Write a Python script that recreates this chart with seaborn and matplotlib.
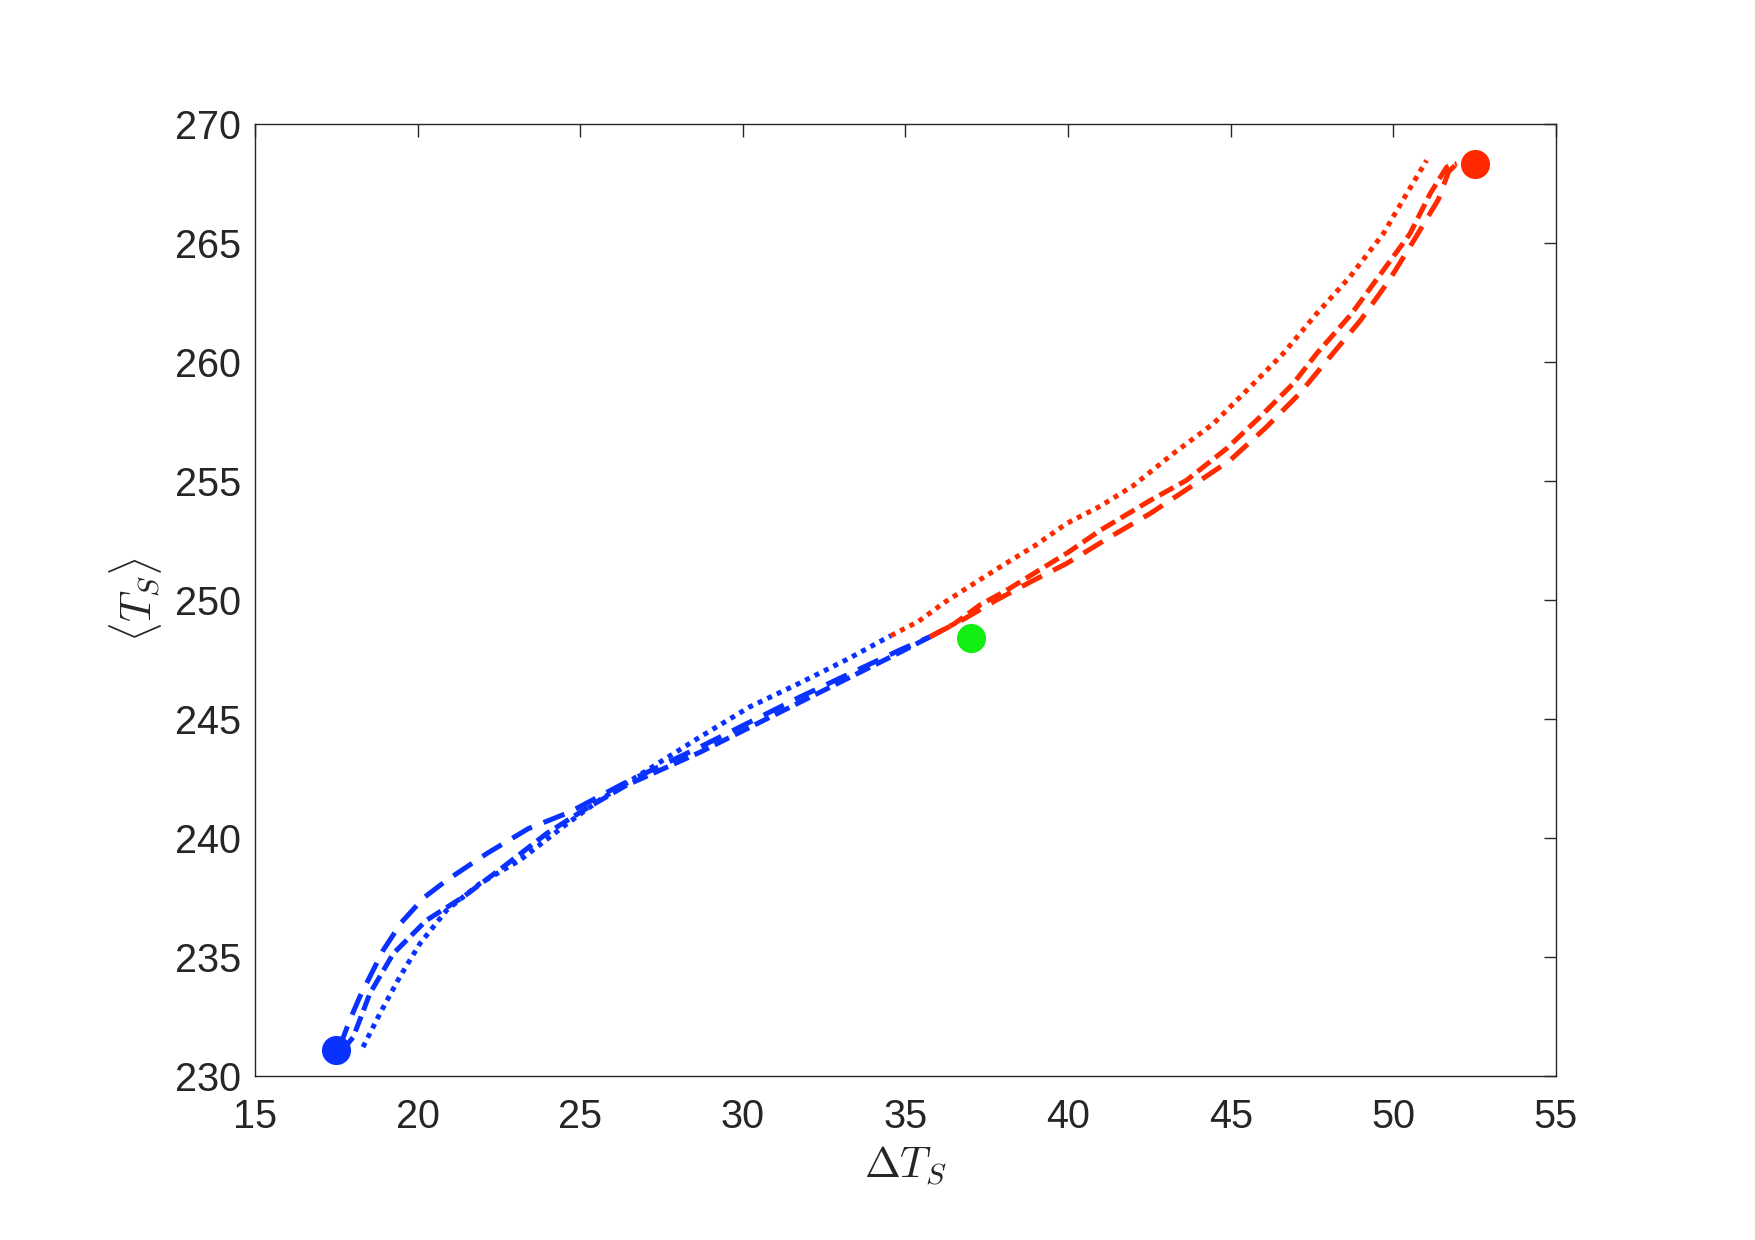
import numpy as np
import pandas as pd
import matplotlib
matplotlib.use("Agg")
import matplotlib.pyplot as plt
import seaborn as sns

# ---- data ----
blue_dot_x = [18.32, 18.84, 19.45, 20.07, 20.89, 21.91, 23.14, 24.5, 25.6, 27.0, 28.68, 30.2, 31.75, 33.2, 34.55]
blue_dot_y = [231.21, 232.62, 234.16, 235.56, 236.96, 238.08, 239.06, 240.5, 241.6, 242.8, 244.24, 245.5, 246.51, 247.5, 248.5]
red_dot_x = [34.55, 35.4, 36.2, 37.0, 37.9, 39.0, 39.95, 41.0, 42.0, 43.23, 44.46, 45.7, 46.61, 47.64, 48.66, 49.69, 50.41, 51.02]
red_dot_y = [248.5, 249.1, 249.9, 250.6, 251.38, 252.3, 253.21, 253.95, 254.8, 256.15, 257.4, 259.09, 260.35, 262.03, 263.57, 265.39, 267.07, 268.47]

blue_dashB_x = [17.6, 17.9, 18.22, 18.94, 19.5, 20.2, 20.89, 22.12, 23.4, 24.68, 26.32, 28.68, 31.75, 34.83, 35.75]
blue_dashB_y = [231.2, 232.3, 233.32, 235.28, 236.45, 237.5, 238.22, 239.34, 240.39, 241.09, 242.28, 243.82, 245.92, 247.9, 248.45]
red_dashB_x = [35.75, 36.8, 37.8, 38.9, 39.95, 41.28, 42.52, 43.75, 44.98, 46.1, 47.1, 48.05, 48.99, 49.87, 50.63, 51.38, 51.7, 51.95]
red_dashB_y = [248.45, 249.2, 250.0, 250.8, 251.53, 252.64, 253.63, 254.74, 255.87, 257.27, 258.65, 260.21, 261.75, 263.43, 265.11, 266.82, 268.0, 268.33]

blue_dashC_x = [17.7, 18.02, 18.53, 19.25, 20.27, 21.4, 22.63, 23.96, 25.09, 26.4, 28.68, 31.75, 34.83, 35.75]
blue_dashC_y = [231.1, 231.63, 233.46, 235.14, 236.54, 237.52, 238.78, 240.18, 241.16, 242.2, 243.6, 245.7, 247.8, 248.45]
red_dashC_x = [35.75, 36.5, 37.3, 38.1, 38.93, 40.0, 40.98, 42.52, 43.64, 44.87, 45.9, 46.92, 47.64, 48.7, 49.69, 50.51, 51.13, 51.64, 51.95]
red_dashC_y = [248.45, 249.0, 249.8, 250.4, 251.1, 252.0, 252.92, 254.18, 255.03, 256.36, 257.69, 259.09, 260.35, 262.0, 263.85, 265.39, 267.07, 268.19, 268.33]

points_x = [17.5, 52.5, 37.0]
points_y = [231.1, 268.3, 248.4]
points_c = ["#0A32FF", "#FF2A00", "#11EE11"]

x_ticks = [15, 20, 25, 30, 35, 40, 45, 50, 55]
y_ticks = [230, 235, 240, 245, 250, 255, 260, 265, 270]

BLUE = "#0A32FF"
RED = "#FF2A00"
TXT = "#262626"

sns.set_style("white")
plt.rcParams["font.family"] = ["Liberation Sans", "DejaVu Sans"]
plt.rcParams["mathtext.fontset"] = "cm"

fig = plt.figure(figsize=(17.55, 12.40), dpi=100)
ax = fig.add_axes([0.1453, 0.1323, 0.8866 - 0.1453, 0.9 - 0.1323])

lw = 3.6
styles = {
    "dot": (0, (1, 1.1)),
    "B": (0, (4.5, 2.5)),
    "C": (0, (3.2, 1.3)),
}
segs = [
    (blue_dot_x, blue_dot_y, BLUE, "dot"),
    (red_dot_x, red_dot_y, RED, "dot"),
    (blue_dashB_x, blue_dashB_y, BLUE, "B"),
    (red_dashB_x, red_dashB_y, RED, "B"),
    (blue_dashC_x, blue_dashC_y, BLUE, "C"),
    (red_dashC_x, red_dashC_y, RED, "C"),
]
for xs, ys, c, st in segs:
    sns.lineplot(x=xs, y=ys, sort=False, estimator=None, color=c,
                 linewidth=lw, linestyle=styles[st], ax=ax, dash_capstyle="butt")

for px, py, pc in zip(points_x, points_y, points_c):
    sns.scatterplot(x=[px], y=[py], color=pc, s=440, linewidth=0, ax=ax, zorder=5)

ax.set_xlim(15, 55)
ax.set_ylim(230, 270)
ax.set_xticks(x_ticks)
ax.set_yticks(y_ticks)
ax.set_xticklabels([str(v) for v in x_ticks])
ax.set_yticklabels([str(v) for v in y_ticks])
ax.tick_params(direction="in", length=9, width=1.0, colors=TXT, labelsize=28.5,
               top=True, right=True)
ax.tick_params(axis="y", pad=10)
ax.tick_params(axis="x", pad=16)
for sp in ax.spines.values():
    sp.set_visible(True)
    sp.set_color(TXT)
    sp.set_linewidth(1.0)

ax.set_xlabel(r"$\Delta T_S$", fontsize=31, color=TXT, labelpad=6)
ax.set_ylabel(r"$\langle T_S \rangle$", fontsize=31, color=TXT, labelpad=8)

fig.savefig("out.png", dpi=100, facecolor="white")
